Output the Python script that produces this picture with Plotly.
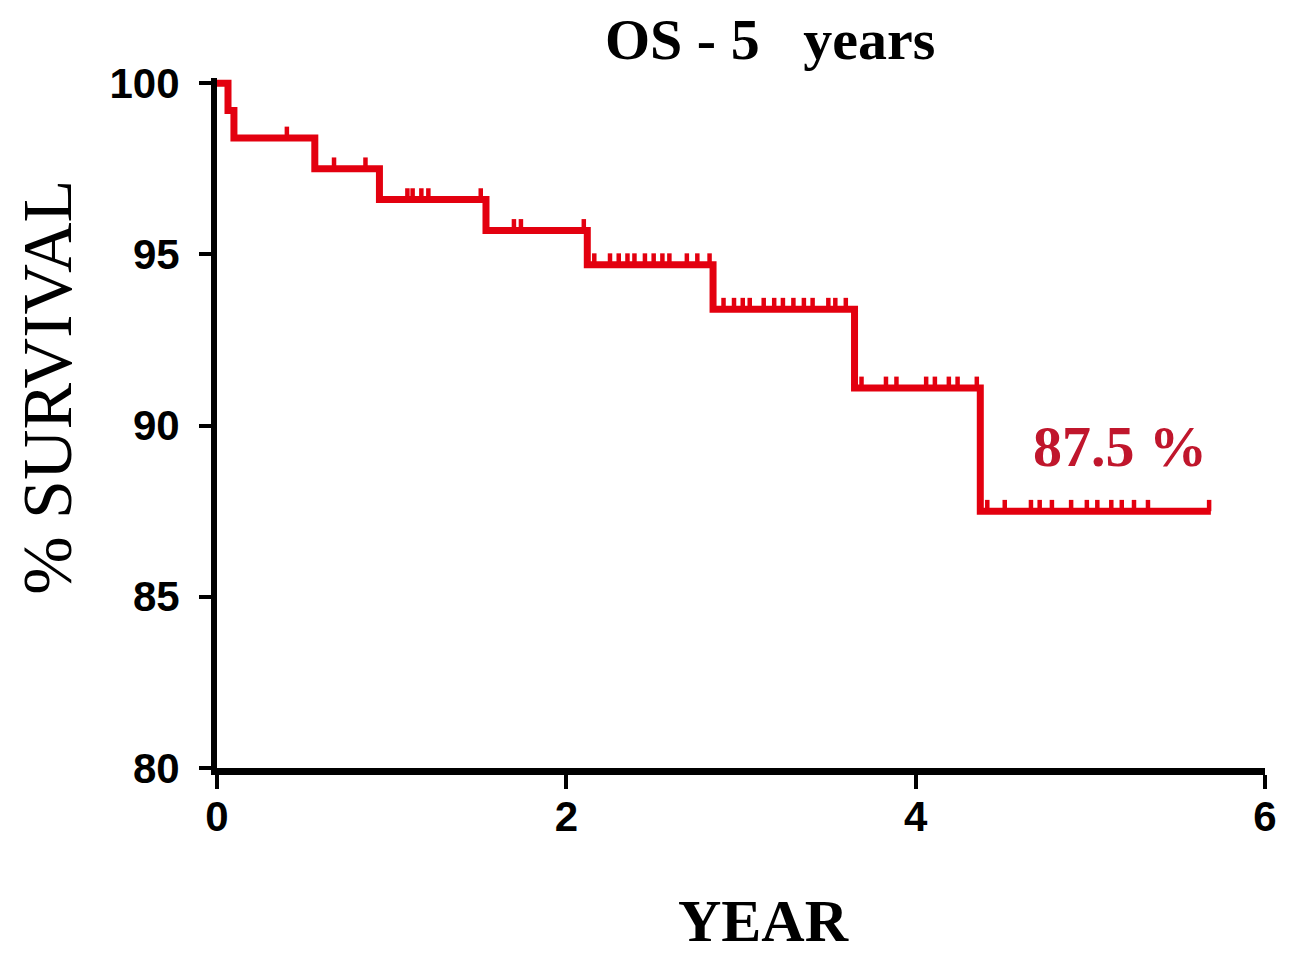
import plotly.graph_objects as go

# Kaplan-Meier step curve (years, % survival)
step_times = [0, 0.063, 0.097, 0.56, 0.93, 1.54, 2.12, 2.84, 3.65, 4.37, 5.69]
step_surv = [100, 99.2, 98.4, 97.5, 96.6, 95.7, 94.7, 93.4, 91.1, 87.5, 87.5]

# Censored observations (years) grouped by survival level
censor_times = [
    0.40,
    0.67, 0.85,
    1.09, 1.12, 1.17, 1.21, 1.51,
    1.70, 1.74, 2.10,
    2.16, 2.25, 2.30, 2.35, 2.39, 2.45, 2.50, 2.55, 2.59, 2.69, 2.75, 2.82,
    2.90, 2.96, 3.01, 3.05, 3.13, 3.19, 3.24, 3.30, 3.36, 3.41, 3.50, 3.54, 3.60,
    3.69, 3.83, 3.89, 4.06, 4.11, 4.19, 4.24, 4.35,
    4.41, 4.51, 4.66, 4.71, 4.78, 4.89, 4.98, 5.04, 5.12, 5.18, 5.25, 5.33, 5.68,
]
censor_surv = (
    [98.4] * 1 + [97.5] * 2 + [96.6] * 5 + [95.7] * 3 + [94.7] * 12
    + [93.4] * 13 + [91.1] * 8 + [87.5] * 13
)

x_ticks = [0, 2, 4, 6]
y_ticks = [80, 85, 90, 95, 100]

title_text = "OS - 5&nbsp;&nbsp; years"
x_title = "YEAR"
y_title = "% SURVIVAL"
final_label = "87.5 %"
final_label_pos = (5.17, 89.4)

RED = "#e3000f"
DARK_RED = "#c0162c"

W, H = 1289, 953
L, R, T, B = 217, 13, 78, 185
pw = W - L - R
ph = H - T - B


def px_x(p):
    return (p - L) / pw


def px_y(p):
    return (H - B - p) / ph


fig = go.Figure()
fig.add_trace(go.Scatter(
    x=step_times, y=step_surv, mode="lines",
    line=dict(color=RED, width=7, shape="hv"),
    hoverinfo="skip", showlegend=False,
))
fig.add_trace(go.Scatter(
    x=censor_times, y=censor_surv, mode="markers",
    marker=dict(size=1, color=RED, opacity=0),
    error_y=dict(type="data", symmetric=False,
                 array=[0.33] * len(censor_times),
                 arrayminus=[0] * len(censor_times),
                 color=RED, thickness=4.5, width=0),
    hoverinfo="skip", showlegend=False,
))

fig.update_layout(
    width=W, height=H,
    margin=dict(l=L, r=R, t=T, b=B, pad=0),
    plot_bgcolor="white", paper_bgcolor="white",
    xaxis=dict(
        range=[0, 6], tickvals=x_ticks, ticktext=[str(v) for v in x_ticks],
        showgrid=False, zeroline=False,
        showline=True, linecolor="black", linewidth=7,
        ticks="outside", ticklen=14, tickwidth=4, tickcolor="black",
        ticklabelstandoff=-8,
        tickfont=dict(family="Liberation Sans", size=42, color="black", weight="bold"),
    ),
    yaxis=dict(
        range=[80, 100.15], tickvals=y_ticks, ticktext=[str(v) for v in y_ticks],
        showgrid=False, zeroline=False,
        showline=True, linecolor="black", linewidth=6,
        ticks="outside", ticklen=12, tickwidth=4, tickcolor="black",
        ticklabelstandoff=11,
        tickfont=dict(family="Liberation Sans", size=42, color="black", weight="bold"),
    ),
    annotations=[
        dict(text=title_text, xref="paper", yref="paper",
             x=px_x(776), y=px_y(39), xanchor="center", yanchor="middle",
             showarrow=False,
             font=dict(family="Liberation Serif", size=58, color="black", weight="bold")),
        dict(text=x_title, xref="paper", yref="paper",
             x=px_x(769), y=px_y(921), xanchor="center", yanchor="middle",
             showarrow=False,
             font=dict(family="Liberation Serif", size=60, color="black", weight="bold")),
        dict(text=y_title, xref="paper", yref="paper",
             x=px_x(45), y=px_y(387), xanchor="center", yanchor="middle",
             textangle=-90, showarrow=False,
             font=dict(family="Liberation Serif", size=70, color="black")),
        dict(text=final_label, x=final_label_pos[0], y=final_label_pos[1],
             xanchor="center", yanchor="middle", showarrow=False,
             font=dict(family="Liberation Serif", size=58, color=DARK_RED, weight="bold")),
    ],
)

fig.write_html(
    "out.html",
    config={"displayModeBar": False},
    post_script="document.body.style.margin='0';document.body.style.overflow='hidden';",
)
